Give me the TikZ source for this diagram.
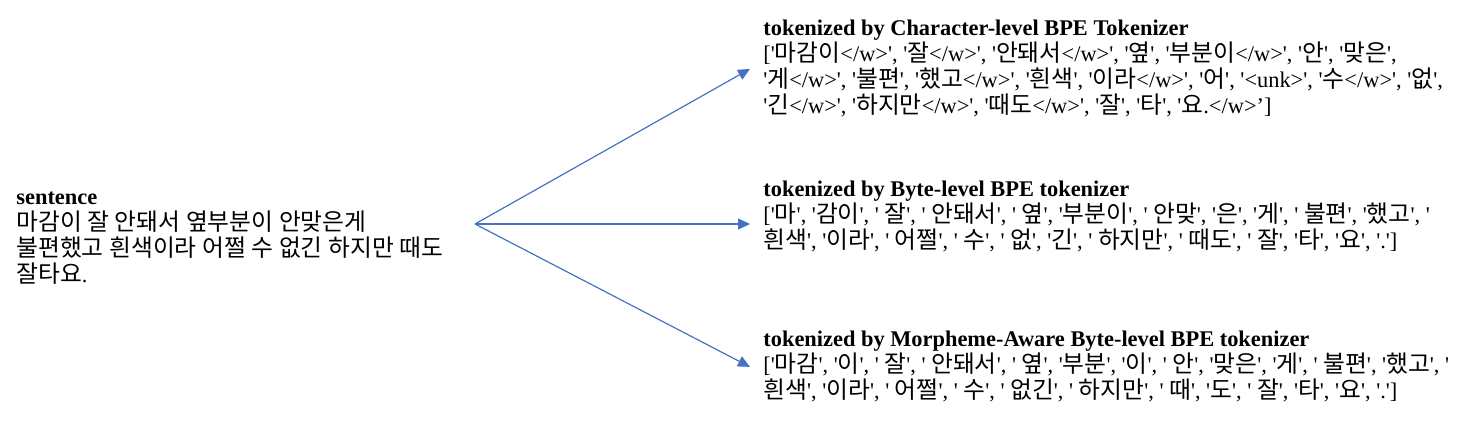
\documentclass[tikz,border=0pt]{standalone}
\usepackage{fontspec}
\setmainfont{Liberation Serif}[Ligatures=TeXOff]
\newfontfamily\korfont{Noto Sans CJK KR}[Scale=1.06]
\usetikzlibrary{arrows.meta}

% Hangul syllables are set in the Korean font automatically
\newXeTeXintercharclass\hangulclass
\newcount\hcode
\hcode="AC00
\loop
  \XeTeXcharclass\hcode=\hangulclass
  \advance\hcode by 1
\ifnum\hcode<"D7A4 \repeat
\XeTeXinterchartoks 0 \hangulclass = {\begingroup\korfont}
\XeTeXinterchartoks 4095 \hangulclass = {\begingroup\korfont}
\XeTeXinterchartoks \hangulclass 0 = {\endgroup}
\XeTeXinterchartoks \hangulclass 4095 = {\endgroup}
\XeTeXinterchartokenstate=1

\definecolor{arrowblue}{RGB}{68,114,196}

\tikzset{
    textfont/.style={font=\fontsize{11.2}{13}\selectfont},
    sentbox/.style={textfont, anchor=north west, align=left, inner sep=0pt},
    tokbox/.style={textfont, anchor=north west, align=left, inner xsep=6.5pt, inner ysep=0pt},
    arrowline/.style={draw=arrowblue, line width=0.6pt, -{Triangle[length=6pt, width=5.5pt, fill=arrowblue]}}
}

\begin{document}
\begin{tikzpicture}[x=0.5pt, y=-0.5pt]
    % --- Configuration ---
    \def\tokX{750}    % Left edge of the token lists

    \useasboundingbox (0,0) rectangle (1484,434);

    % --- Input sentence ---
    \node[sentbox] (sent) at (16, 191) {\textbf{sentence}\\
        마감이 잘 안돼서 옆부분이 안맞은게\\
        불편했고 흰색이라 어쩔 수 없긴 하지만 때도\\
        잘타요.};

    % --- Tokenizer outputs ---
    \node[tokbox] (char) at (\tokX, 20) {\textbf{tokenized by Character-level BPE Tokenizer}\\ \relax
        ['마감이</w>', '잘</w>', '안돼서</w>', '옆', '부분이</w>', '안', '맞은',\\
        '게</w>', '불편', '했고</w>', '흰색', '이라</w>', '어', '<unk>', '수</w>', '없',\\
        '긴</w>', '하지만</w>', '때도</w>', '잘', '타', '요.</w>’]};

    \node[tokbox] (byte) at (\tokX, 181) {\textbf{tokenized by Byte-level BPE tokenizer}\\ \relax
        ['마', '감이', ' 잘', ' 안돼서', ' 옆', '부분이', ' 안맞', '은', '게', ' 불편', '했고', '\\
        흰색', '이라', ' 어쩔', ' 수', ' 없', '긴', ' 하지만', ' 때도', ' 잘', '타', '요', '.']};

    \node[tokbox] (morph) at (\tokX, 331) {\textbf{tokenized by Morpheme-Aware Byte-level BPE tokenizer}\\ \relax
        ['마감', '이', ' 잘', ' 안돼서', ' 옆', '부분', '이', ' 안', '맞은', '게', ' 불편', '했고', '\\
        흰색', '이라', ' 어쩔', ' 수', ' 없긴', ' 하지만', ' 때', '도', ' 잘', '타', '요', '.']};

    % --- Arrows ---
    \coordinate (fork) at (475, 224);
    \foreach \t in {char.west, byte.west |- fork, morph.west} {
        \draw[arrowline] (fork) -- (\t);
    }

\end{tikzpicture}
\end{document}
